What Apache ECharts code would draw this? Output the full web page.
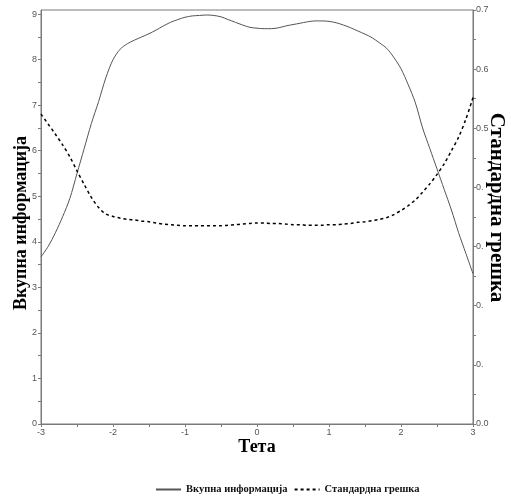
<!DOCTYPE html>
<html>
<head>
<meta charset="utf-8">
<script src="https://cdn.jsdelivr.net/npm/echarts@6/dist/echarts.min.js"></script>
<style>html,body{margin:0;padding:0;background:#fff}#c{width:511px;height:500px}</style>
</head>
<body>
<div id="c"></div>
<script>
var theta = [-3.0,-2.9,-2.8,-2.7,-2.6,-2.5,-2.4,-2.3,-2.2,-2.1,-2.0,-1.9,-1.8,-1.7,-1.6,-1.5,-1.4,-1.3,-1.2,-1.1,-1.0,-0.9,-0.8,-0.7,-0.6,-0.5,-0.4,-0.3,-0.2,-0.1,0.0,0.1,0.2,0.3,0.4,0.5,0.6,0.7,0.8,0.9,1.0,1.1,1.2,1.3,1.4,1.5,1.6,1.7,1.8,1.9,2.0,2.1,2.2,2.3,2.4,2.5,2.6,2.7,2.8,2.9,3.0];
var information = [3.67,3.9,4.2,4.55,4.95,5.5,6.05,6.6,7.08,7.6,8.0,8.23,8.35,8.43,8.5,8.57,8.65,8.74,8.82,8.88,8.93,8.96,8.97,8.98,8.97,8.94,8.88,8.82,8.76,8.71,8.69,8.68,8.68,8.70,8.74,8.77,8.80,8.83,8.85,8.85,8.84,8.81,8.76,8.70,8.63,8.56,8.48,8.37,8.25,8.05,7.8,7.45,7.05,6.5,6.05,5.6,5.15,4.7,4.2,3.75,3.3];
var stdError = [0.524,0.507,0.490,0.472,0.452,0.428,0.405,0.383,0.366,0.355,0.351,0.348,0.346,0.345,0.343,0.342,0.340,0.338,0.337,0.336,0.335,0.335,0.335,0.335,0.335,0.335,0.336,0.337,0.338,0.339,0.340,0.340,0.339,0.339,0.338,0.337,0.337,0.336,0.336,0.336,0.337,0.337,0.338,0.339,0.341,0.342,0.344,0.346,0.349,0.354,0.361,0.369,0.379,0.392,0.406,0.422,0.440,0.462,0.485,0.515,0.552];
var xTickLabels = ["-3","-2","-1","0","1","2","3"];
var xTickValues = [-3,-2,-1,0,1,2,3];
var leftTickLabels = ["0","1","2","3","4","5","6","7","8","9"];
var leftTickValues = [0,1,2,3,4,5,6,7,8,9];
var rightTickLabels = ["0.0","0.","0.","0.","0.","0.5","0.6","0.7"];
var rightTickValues = [0,0.1,0.2,0.3,0.4,0.5,0.6,0.7];
var xMinorTicks = [-3,-2.5,-2,-1.5,-1,-0.5,0,0.5,1,1.5,2,2.5,3];
var leftMinorTicks = [0,0.5,1,1.5,2,2.5,3,3.5,4,4.5,5,5.5,6,6.5,7,7.5,8,8.5,9];
var rightMinorTicks = [0,0.05,0.1,0.15,0.2,0.25,0.3,0.35,0.4,0.45,0.5,0.55,0.6,0.65,0.7];
var seriesNames = ["Вкупна информација","Стандардна грешка"];
var xTitle = "Тета";

function lookup(vals, labels) {
  return function (v) {
    for (var i = 0; i < vals.length; i++) if (Math.abs(vals[i] - v) < 1e-6) return labels[i];
    return '';
  };
}

var axisColor = '#7a7a7a';
var labelStyle = {color: '#555', fontSize: 9, fontFamily: 'Liberation Sans, Arial, sans-serif'};
function titleFont(size, pad) {
  return {fontFamily: 'Liberation Serif, Times New Roman, serif', fontWeight: 'bold', fontSize: size, color: '#000', padding: pad};
}

var chart = echarts.init(document.getElementById('c'), null, {renderer: 'canvas'});
chart.setOption({
  animation: false,
  backgroundColor: '#fff',
  grid: {left: 41, right: 38, top: 10, bottom: 76, containLabel: false, outerBoundsMode: 'none',
         show: true, borderColor: axisColor, borderWidth: 1},
  legend: {
    bottom: 5, left: 155, padding: 0, itemWidth: 25, itemHeight: 8, itemGap: 6,
    data: seriesNames,
    itemStyle: {opacity: 0},
    textStyle: {fontFamily: 'Liberation Serif, serif', fontWeight: 'bold', fontSize: 10.5, color: '#111'}
  },
  xAxis: {
    type: 'value', min: -3, max: 3, interval: 0.5,
    name: xTitle, nameLocation: 'middle', nameGap: 14, nameMoveOverlap: false, nameTextStyle: titleFont(18, 0),
    axisLine: {show: true, onZero: false, lineStyle: {color: axisColor}},
    axisTick: {show: true, length: 3, customValues: xMinorTicks, lineStyle: {color: axisColor}},
    axisLabel: Object.assign({margin: 4, customValues: xTickValues, formatter: lookup(xTickValues, xTickLabels)}, labelStyle),
    splitLine: {show: false}
  },
  yAxis: [{
    type: 'value', min: 0, max: 9.09, position: 'left',
    name: seriesNames[0], nameLocation: 'middle', nameGap: 11, nameMoveOverlap: false, nameRotate: 90, nameTextStyle: titleFont(18, [0, 12, 0, 0]),
    axisLine: {show: true, onZero: false, lineStyle: {color: axisColor}},
    axisTick: {show: true, length: 3, customValues: leftMinorTicks, lineStyle: {color: axisColor}},
    axisLabel: Object.assign({margin: 4, customValues: leftTickValues, formatter: lookup(leftTickValues, leftTickLabels)}, labelStyle),
    splitLine: {show: false}
  }, {
    type: 'value', min: 0, max: 0.7, position: 'right',
    name: seriesNames[1], nameLocation: 'middle', nameGap: 13, nameMoveOverlap: false, nameRotate: -90, nameTextStyle: titleFont(21, [0, 19, 0, 0]),
    axisLine: {show: true, onZero: false, lineStyle: {color: axisColor}},
    axisTick: {show: true, length: 3, customValues: rightMinorTicks, lineStyle: {color: axisColor}},
    axisLabel: Object.assign({margin: 3, customValues: rightTickValues, formatter: lookup(rightTickValues, rightTickLabels)}, labelStyle),
    splitLine: {show: false}
  }],
  series: [{
    name: seriesNames[0], type: 'line', yAxisIndex: 0, smooth: 0.3, showSymbol: false, symbol: 'none',
    data: theta.map(function (t, i) { return [t, information[i]]; }),
    lineStyle: {color: '#555', width: 1, type: 'solid'}, itemStyle: {color: '#555'}
  }, {
    name: seriesNames[1], type: 'line', yAxisIndex: 1, smooth: 0.3, showSymbol: false, symbol: 'none',
    data: theta.map(function (t, i) { return [t, stdError[i]]; }),
    lineStyle: {color: '#000', width: 1.5, type: [3, 3]}, itemStyle: {color: '#000'}
  }]
});
</script>
</body>
</html>
